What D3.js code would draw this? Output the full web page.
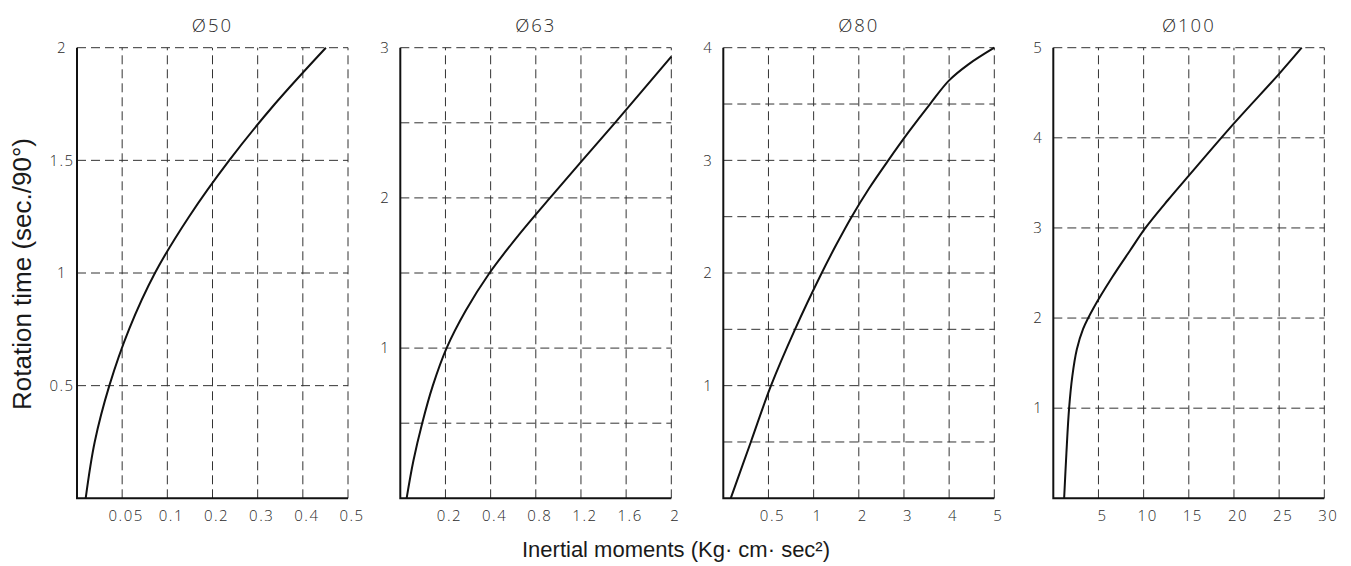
<!DOCTYPE html>
<html>
<head>
<meta charset="utf-8">
<script src="https://cdn.jsdelivr.net/npm/d3@7"></script>
<style>
  body { margin: 0; background: #fff; }
  svg { display: block; }
  .tick { font-family: 'Open Sans', 'DejaVu Sans', sans-serif; font-weight: 300; font-size: 15px; letter-spacing: 1.5px; fill: #2a2a2a; }
  .title { font-family: 'Open Sans', 'DejaVu Sans', sans-serif; font-weight: 300; font-size: 18.5px; letter-spacing: 2px; fill: #2a2a2a; }
  .axis-title { font-family: 'Liberation Sans', Arial, sans-serif; fill: #1a1a1a; }
</style>
</head>
<body>
<svg></svg>
<script>
const titles = ['Ø50', 'Ø63', 'Ø80', 'Ø100'];

const xTicks50 = [0.05, 0.1, 0.2, 0.3, 0.4, 0.5];
const xTicks63 = [0.2, 0.4, 0.8, 1.2, 1.6, 2];
const xTicks80 = [0.5, 1, 2, 3, 4, 5];
const xTicks100 = [5, 10, 15, 20, 25, 30];

const yTicks50 = [0.5, 1, 1.5, 2];
const yTicks63 = [1, 2, 3];
const yTicks80 = [1, 2, 3, 4];
const yTicks100 = [1, 2, 3, 4, 5];

const yMax = [2, 3, 4, 5];
const yGridStep = [0.5, 0.5, 0.5, 1];

// inertial moment (x) / rotation time (y)
const inertia50 = [0.0096, 0.0196, 0.0358, 0.0576, 0.0863, 0.148, 0.237, 0.338, 0.451];
const time50 = [0, 0.25, 0.5, 0.75, 1.0, 1.25, 1.5, 1.75, 2.0];

const inertia63 = [0.028, 0.058, 0.097, 0.144, 0.205, 0.29, 0.395, 0.646, 0.926, 1.212, 1.501, 2.0];
const time63 = [0, 0.25, 0.5, 0.75, 1.0, 1.25, 1.5, 1.75, 2.0, 2.25, 2.5, 2.94];

const inertia80 = [0.082, 0.305, 0.528, 0.794, 1.179, 1.5, 1.843, 2.226, 2.653, 3.1, 3.576, 4.0, 4.42, 5.0];
const time80 = [0, 0.5, 1.0, 1.5, 2.0, 2.25, 2.5, 2.75, 3.0, 3.25, 3.5, 3.71, 3.85, 4.0];

const inertia100 = [1.2, 1.45, 1.75, 2.1, 2.6, 3.3, 4.5, 6.5, 8.5, 10.2, 12.7, 15, 20, 25, 27.5];
const time100 = [0, 0.5, 1.0, 1.35, 1.65, 1.88, 2.12, 2.45, 2.75, 3.0, 3.31, 3.58, 4.16, 4.71, 5.0];

const panels = [
  { title: titles[0], xTicks: xTicks50, yTicks: yTicks50, xs: inertia50, ys: time50 },
  { title: titles[1], xTicks: xTicks63, yTicks: yTicks63, xs: inertia63, ys: time63 },
  { title: titles[2], xTicks: xTicks80, yTicks: yTicks80, xs: inertia80, ys: time80 },
  { title: titles[3], xTicks: xTicks100, yTicks: yTicks100, xs: inertia100, ys: time100 },
];

const width = 1351;
const height = 566;
const lefts = [77, 400.3, 723.3, 1053.3];
const panelW = 271;
const plotTop = 47.7;
const plotBottom = 498.3;

const svg = d3.select('svg')
  .attr('width', width)
  .attr('height', height);

panels.forEach((p, i) => {
  const left = lefts[i];
  const g = svg.append('g').attr('class', `panel panel-${i}`);

  // x ticks are evenly spaced even where the values are not
  const x = d3.scaleLinear()
    .domain([0, ...p.xTicks])
    .range(d3.range(p.xTicks.length + 1).map(k => left + k * panelW / p.xTicks.length));
  const y = d3.scaleLinear()
    .domain([0, yMax[i]])
    .range([plotBottom, plotTop]);

  const yGrid = d3.range(yGridStep[i], yMax[i] + 1e-6, yGridStep[i]);

  const grid = g.append('g')
    .attr('stroke', '#333')
    .attr('stroke-width', 1)
    .attr('stroke-dasharray', '9,5')
    .attr('fill', 'none');

  grid.selectAll('line.v')
    .data(p.xTicks)
    .enter()
    .append('line')
    .attr('class', 'v')
    .attr('x1', d => x(d))
    .attr('x2', d => x(d))
    .attr('y1', plotBottom)
    .attr('y2', plotTop);

  grid.selectAll('line.h')
    .data(yGrid)
    .enter()
    .append('line')
    .attr('class', 'h')
    .attr('x1', left)
    .attr('x2', left + panelW)
    .attr('y1', d => y(d))
    .attr('y2', d => y(d));

  // solid left and bottom axes
  g.append('path')
    .attr('d', `M${left},${plotTop}V${plotBottom}H${left + panelW}`)
    .attr('fill', 'none')
    .attr('stroke', '#111')
    .attr('stroke-width', 2);

  const xAxis = g.append('g')
    .attr('transform', `translate(0,${plotBottom})`)
    .call(d3.axisBottom(x).tickValues(p.xTicks).tickSize(0).tickPadding(12).tickFormat(d3.format('')));
  xAxis.select('.domain').remove();
  xAxis.selectAll('text')
    .attr('class', 'tick')
    .attr('dx', 3.5)
    .attr('dy', '0.71em')
    .attr('fill', null);

  const yAxis = g.append('g')
    .attr('transform', `translate(${left},0)`)
    .call(d3.axisLeft(y).tickValues(p.yTicks).tickSize(0).tickPadding(15).tickFormat(d3.format('')));
  yAxis.select('.domain').remove();
  yAxis.selectAll('text')
    .attr('class', 'tick')
    .attr('text-anchor', 'middle')
    .attr('fill', null);

  const line = d3.line()
    .x(d => x(d[0]))
    .y(d => y(d[1]))
    .curve(d3.curveCatmullRom.alpha(0.5));

  g.append('path')
    .datum(d3.zip(p.xs, p.ys))
    .attr('d', line)
    .attr('fill', 'none')
    .attr('stroke', '#111')
    .attr('stroke-width', 2)
    .attr('stroke-linejoin', 'round');

  g.append('text')
    .attr('class', 'title')
    .attr('x', left + panelW / 2)
    .attr('y', 31.5)
    .attr('text-anchor', 'middle')
    .text(p.title);
});

svg.append('text')
  .attr('class', 'axis-title')
  .attr('transform', 'translate(31,274) rotate(-90)')
  .attr('text-anchor', 'middle')
  .style('font-size', '26px')
  .text('Rotation time (sec./90°)');

svg.append('text')
  .attr('class', 'axis-title')
  .attr('x', 676)
  .attr('y', 557)
  .attr('text-anchor', 'middle')
  .style('font-size', '22px')
  .text('Inertial moments (Kg· cm· sec²)');
</script>
</body>
</html>
